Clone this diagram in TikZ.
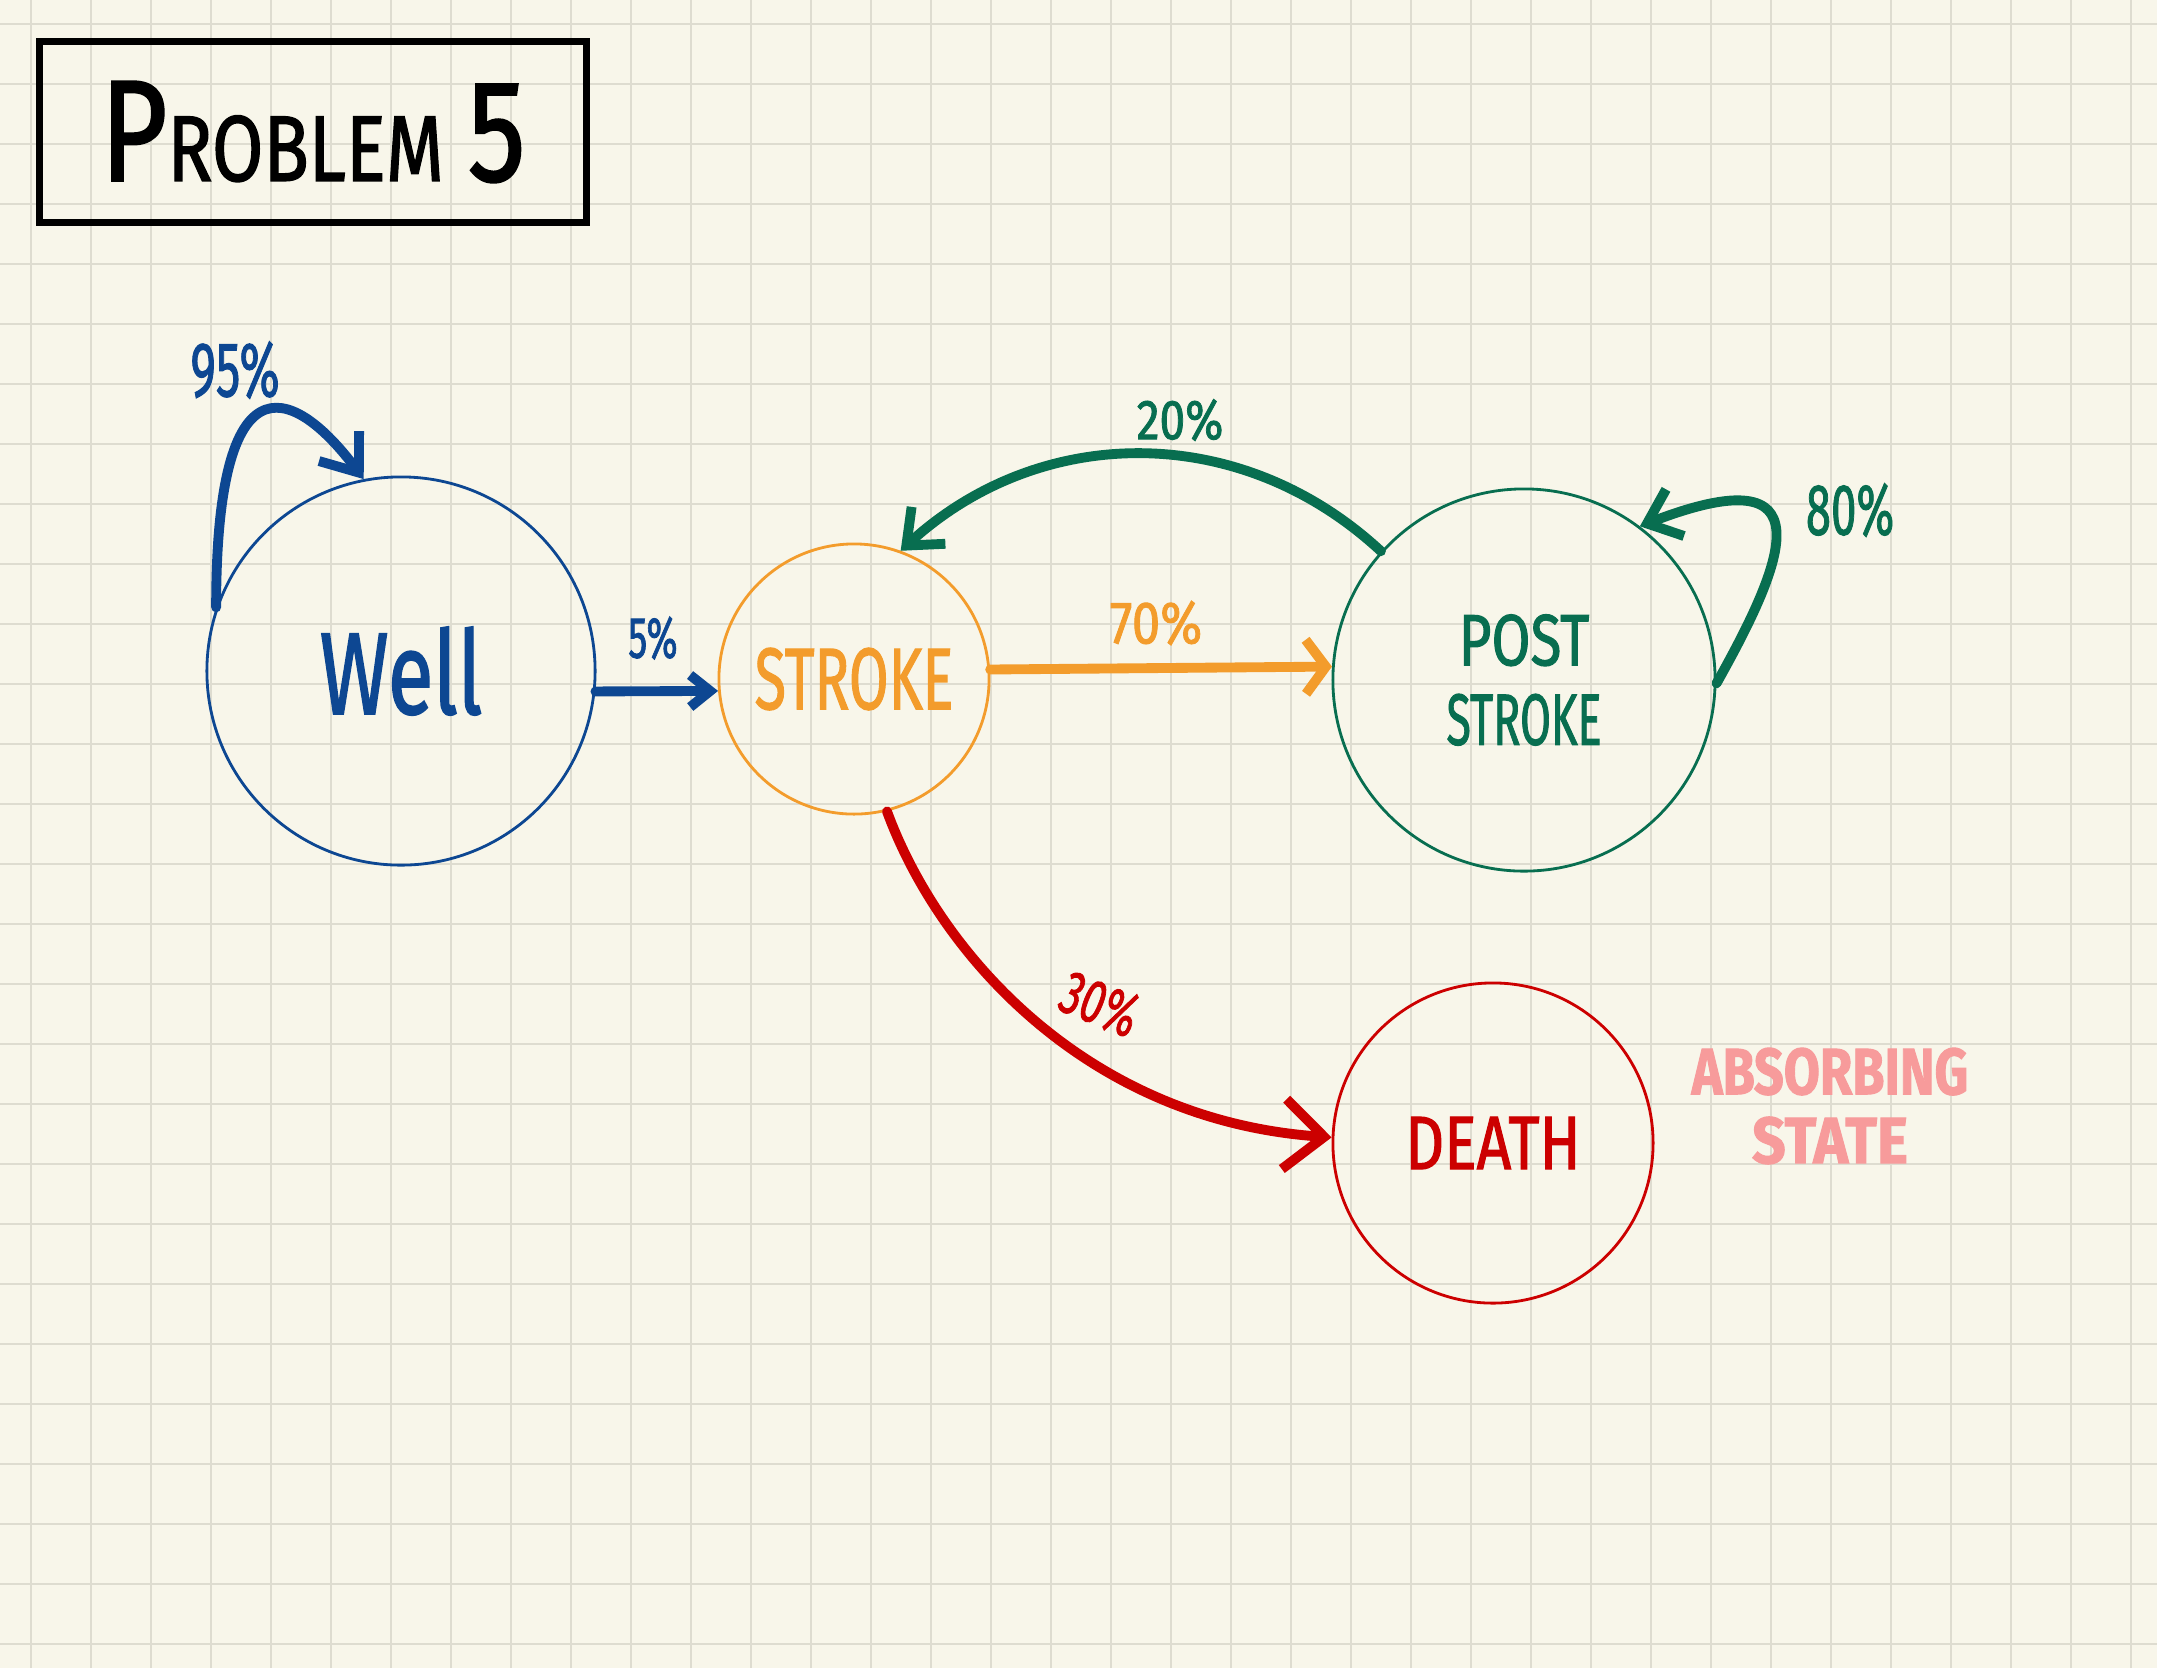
\documentclass[tikz,border=0pt]{standalone}
\usepackage{graphicx}
\usepackage{fontspec}
\setmainfont{Fira Sans}[FakeBold=1.6]
\usetikzlibrary{arrows.meta}

\definecolor{paper}{RGB}{248,246,234}
\definecolor{gridgrey}{RGB}{222,220,208}
\definecolor{wellblue}{RGB}{13,71,146}
\definecolor{strokeorange}{RGB}{243,156,44}
\definecolor{postgreen}{RGB}{8,110,80}
\definecolor{deathred}{RGB}{204,0,0}
\definecolor{notepink}{RGB}{247,155,155}

% squeeze text horizontally, hand lettering is narrow
\newcommand{\hand}[2][0.75]{\scalebox{#1}[1]{#2}}
\newcommand{\fsz}[1]{\fontsize{#1}{#1}\selectfont}

\begin{document}
\begin{tikzpicture}[x=0.01cm, y=-0.01cm,
	state/.style={circle, draw, line width=0.8pt, inner sep=0pt},
	trans/.style={line width=2.8pt, line cap=round, -{Straight Barb[length=3mm,width=5mm]}},
	prob/.style={inner sep=0pt},
	gridline/.style={draw=gridgrey, line width=0.8pt}]
\useasboundingbox (0,0) rectangle (2157,1668);
\fill[paper] (0,0) rectangle (2157,1668);
\foreach \gx in {31,91,...,2131} \draw[gridline] (\gx,0) -- (\gx,1668);
\foreach \gy in {24,84,...,1644} \draw[gridline] (0,\gy) -- (2157,\gy);

% title
\node [draw, line width=2pt, minimum width=5.46cm, minimum height=1.80cm] (title) at (313,132)
	{\hand[0.8]{{\fsz{41}P}{\fsz{26.5}ROBLEM}\hspace{0.3cm}{\fsz{41}5}}};

% states
\node [state, draw=wellblue, text=wellblue, minimum size=3.88cm] (well) at (401,671) {\hand[0.72]{\fsz{33}Well}};
\node [state, draw=strokeorange, text=strokeorange, minimum size=2.70cm] (stroke) at (854,679) {\hand[0.66]{\fsz{24.8}STROKE}};
\node [state, draw=postgreen, text=postgreen, minimum size=3.82cm, align=center, font=\fsz{20.6}] (post) at (1524,680)
	{\raisebox{4pt}{\hand[0.78]{POST}}\\[-2pt]\hand[0.62]{STROKE}};
\node [state, draw=deathred, text=deathred, minimum size=3.20cm] (death) at (1493,1143) {\hand[0.8]{\fsz{21.5}DEATH}};
\node [prob, text=notepink, align=center, font=\fsz{18.6}\bfseries] (absorb) at (1830,1106)
	{\hand[0.8]{ABSORBING}\\[1pt]\hand[0.9]{STATE}};

% transitions
\draw [trans, wellblue, -{Straight Barb[length=3.3mm,width=5mm]}] (well.161) .. controls +(0,-270) and +(-62,-83) .. (well.101);
\draw [trans, wellblue, -{Straight Barb[length=2mm,width=3.2mm]}] (well.-6.5) -- (stroke.185);
\draw [trans, strokeorange, -{Straight Barb[length=2mm,width=5.4mm]}] (stroke.4.7) -- (post.176.4);
\draw [trans, postgreen] (post.138) .. controls +(-140,-130) and +(140,-128) .. (stroke.70);
\draw [trans, postgreen] (post.-1) .. controls +(69,-123) and +(189,-73) .. (post.53);
\draw [trans, deathred, -{Straight Barb[length=4mm,width=7mm]}] (stroke.-76) .. controls +(52,142) and +(-245,-17) .. (death.178);

% probabilities
\node [prob, text=wellblue] (p95) at (235,370) {\hand[0.63]{\fsz{22}95\%}};
\node [prob, text=wellblue] (p5) at (653,638) {\hand[0.65]{\fsz{16.5}5\%}};
\node [prob, text=strokeorange] (p70) at (1156,623) {\hand[0.85]{\fsz{17}70\%}};
\node [prob, text=postgreen] (p20) at (1180,420) {\hand[0.82]{\fsz{16}20\%}};
\node [prob, text=postgreen] (p80) at (1850,510) {\hand[0.63]{\fsz{20.6}80\%}};
\node [prob, text=deathred, rotate=-22] (p30) at (1100,1004) {\hand[0.68]{\fsz{17.5}30\%}};
\end{tikzpicture}
\end{document}
